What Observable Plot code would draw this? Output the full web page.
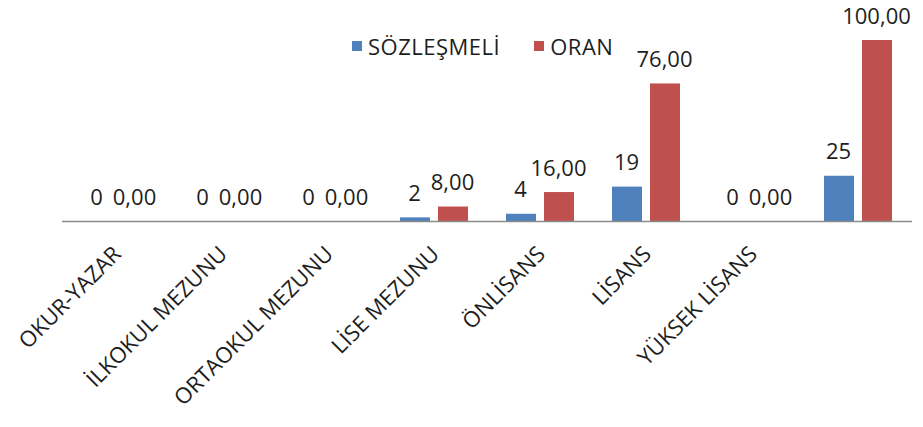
<!DOCTYPE html>
<html>
<head>
<meta charset="utf-8">
<script src="https://cdn.jsdelivr.net/npm/d3@7"></script>
<script src="https://cdn.jsdelivr.net/npm/@observablehq/plot@0.6"></script>
<style>
  html, body { margin: 0; padding: 0; background: #fff; }
  #wrap { position: relative; width: 923px; height: 427px; font-family: "Open Sans", sans-serif; color: #1e1e1e; }
  #legend { position: absolute; left: 352px; top: 31px; font-size: 22px; letter-spacing: 0.5px; display: flex; align-items: center; white-space: nowrap; }
  #legend .sw { display: inline-block; width: 10px; height: 10px; margin-right: 6px; }
  #legend .item { display: inline-flex; align-items: center; margin-right: 34px; }
</style>
</head>
<body>
<div id="wrap"><div id="legend"></div></div>
<script>
const categories = ["OKUR-YAZAR", "İLKOKUL MEZUNU", "ORTAOKUL MEZUNU", "LİSE MEZUNU", "ÖNLİSANS", "LİSANS", "YÜKSEK LİSANS", ""];
const seriesNames = ["SÖZLEŞMELİ", "ORAN"];
const sozlesmeli = [0, 0, 0, 2, 4, 19, 0, 25];
const oran = [0, 0, 0, 8, 16, 76, 0, 100];
const colors = ["#4F81BD", "#C0504D"];

const rows = [];
categories.forEach((c, i) => {
  rows.push({category: c, series: seriesNames[0], value: sozlesmeli[i]});
  rows.push({category: c, series: seriesNames[1], value: oran[i]});
});
const blue = rows.filter(d => d.series === seriesNames[0]);
const red = rows.filter(d => d.series === seriesNames[1]);
const fmtInt = d => String(d);
const fmtDec = d => d.toFixed(2).replace(".", ",");

const chart = Plot.plot({
  width: 923,
  height: 427,
  marginLeft: 62,
  marginRight: 11,
  marginTop: 40,
  marginBottom: 206,
  style: {fontFamily: "Open Sans, sans-serif", fontSize: "22px", color: "#1e1e1e", background: "transparent"},
  x: {domain: categories, padding: 0},
  y: {domain: [0, 100], axis: null},
  marks: [
    Plot.barY(blue, {x: "category", y: "value", fill: colors[0], insetLeft: 19, insetRight: 57}),
    Plot.barY(red, {x: "category", y: "value", fill: colors[1], insetLeft: 57, insetRight: 19}),
    Plot.ruleY([0], {stroke: "#8a8a8a", strokeWidth: 1.5}),
    Plot.text(blue, {x: "category", y: "value", text: d => fmtInt(d.value), dx: -20, dy: -17, lineAnchor: "bottom", fontSize: 22, fill: "#1e1e1e"}),
    Plot.text(red, {x: "category", y: "value", text: d => fmtDec(d.value), dx: 18, dy: -17, lineAnchor: "bottom", fontSize: 22, fill: "#1e1e1e"}),
    Plot.axisX({tickRotate: -45, tickSize: 0, tickPadding: 29, dx: 1, label: null, fontSize: 22})
  ]
});
const wrap = document.getElementById("wrap");
chart.style.position = "absolute";
chart.style.left = "0";
chart.style.top = "0";
wrap.insertBefore(chart, wrap.firstChild);

const legend = document.getElementById("legend");
seriesNames.forEach((s, i) => {
  const item = document.createElement("span");
  item.className = "item";
  const sw = document.createElement("span");
  sw.className = "sw";
  sw.style.background = colors[i];
  item.appendChild(sw);
  item.appendChild(document.createTextNode(s));
  legend.appendChild(item);
});
</script>
</body>
</html>
